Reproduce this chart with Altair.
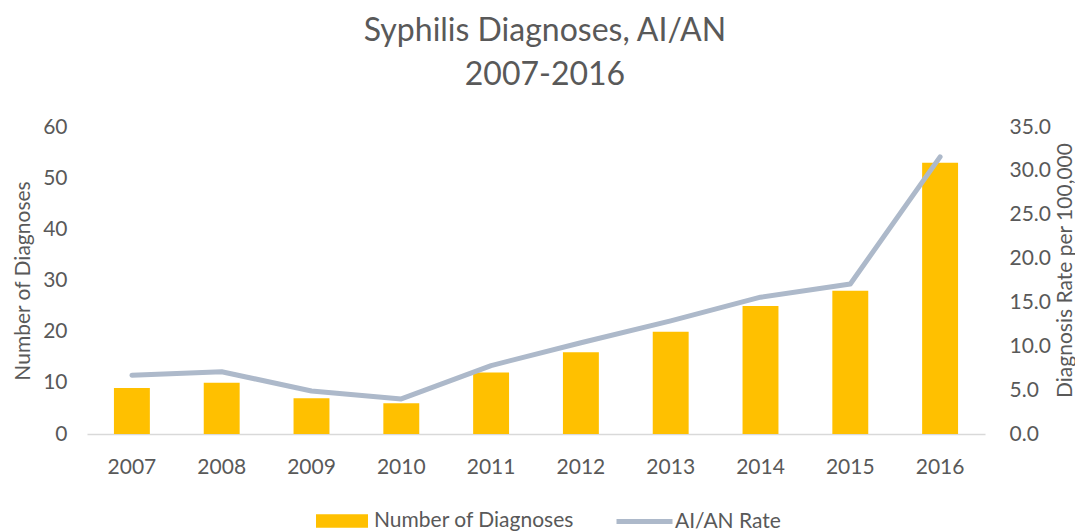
import altair as alt
import pandas as pd

years = ["2007", "2008", "2009", "2010", "2011", "2012", "2013", "2014", "2015", "2016"]
diagnoses = [9, 10, 7, 6, 12, 16, 20, 25, 28, 53]
rates = [6.7, 7.1, 4.9, 4.0, 7.8, 10.4, 12.9, 15.6, 17.1, 31.6]

df = pd.DataFrame({
    "year": years,
    "diagnoses": diagnoses,
    "rate": rates,
    "bar_series": ["Number of Diagnoses"] * len(years),
    "line_series": ["AI/AN Rate"] * len(years),
})

FONT = "Lato"
TXT = "#595959"

x = alt.X("year:O", title=None,
          scale=alt.Scale(paddingInner=0.6, paddingOuter=0.3),
          axis=alt.Axis(labelAngle=0, labelFontSize=21, labelColor=TXT, labelFont=FONT,
                        labelPadding=22, ticks=False, domainColor="#D9D9D9", domainWidth=1.5))

bars = alt.Chart(df).mark_bar().encode(
    x=x,
    y=alt.Y("diagnoses:Q", title="Number of Diagnoses",
            scale=alt.Scale(domain=[0, 60]),
            axis=alt.Axis(values=[0, 10, 20, 30, 40, 50, 60], grid=False, domain=False, ticks=False,
                          labelFontSize=21, labelColor=TXT, labelFont=FONT, labelPadding=20,
                          titleFontSize=21, titleColor=TXT, titleFont=FONT, titleFontWeight="normal",
                          titlePadding=9)),
    color=alt.Color("bar_series:N", scale=alt.Scale(domain=["Number of Diagnoses"], range=["#FFC000"]),
                    legend=alt.Legend(title=None, orient="none", legendX=229, legendY=368,
                                      symbolType="M-1,-0.26H1V0.26H-1Z", symbolSize=2704,
                                      symbolStrokeWidth=0, labelFontSize=21, labelFont=FONT,
                                      labelColor=TXT, labelOffset=6, labelLimit=400, padding=0)),
)

line = alt.Chart(df).mark_line(strokeWidth=5, strokeCap="round", strokeJoin="round").encode(
    x=x,
    y=alt.Y("rate:Q", title="Diagnosis Rate per 100,000",
            scale=alt.Scale(domain=[0, 35]),
            axis=alt.Axis(orient="right", values=[0, 5, 10, 15, 20, 25, 30, 35], format=".1f",
                          grid=False, domain=False, ticks=False,
                          labelFontSize=21, labelColor=TXT, labelFont=FONT, labelPadding=24,
                          titleFontSize=21, titleColor=TXT, titleFont=FONT, titleFontWeight="normal",
                          titleAngle=270, titleX=80, titleY=143, titleAlign="center",
                          titleBaseline="middle")),
    stroke=alt.Stroke("line_series:N", scale=alt.Scale(domain=["AI/AN Rate"], range=["#ADB9CA"]),
                      legend=alt.Legend(title=None, orient="none", legendX=527, legendY=364,
                                        symbolType="stroke", symbolSize=3136, symbolStrokeWidth=5,
                                        labelFontSize=21, labelFont=FONT, labelColor=TXT,
                                        labelOffset=0, labelLimit=400, padding=0)),
)

chart = alt.layer(bars, line).resolve_scale(y="independent", color="independent").properties(
    width=898,
    height=307,
    padding={"left": 79, "top": 119, "right": 90, "bottom": 97},
    autosize=alt.AutoSizeParams(type="none"),
    title=alt.TitleParams(["Syphilis Diagnoses, AI/AN", "2007-2016"], fontSize=32, lineHeight=44,
                          font=FONT, fontWeight="normal", color=TXT, anchor="middle", dx=9,
                          offset=24),
).configure_view(stroke=None)

chart.save("out.html", embed_options={"renderer": "svg", "actions": False})
